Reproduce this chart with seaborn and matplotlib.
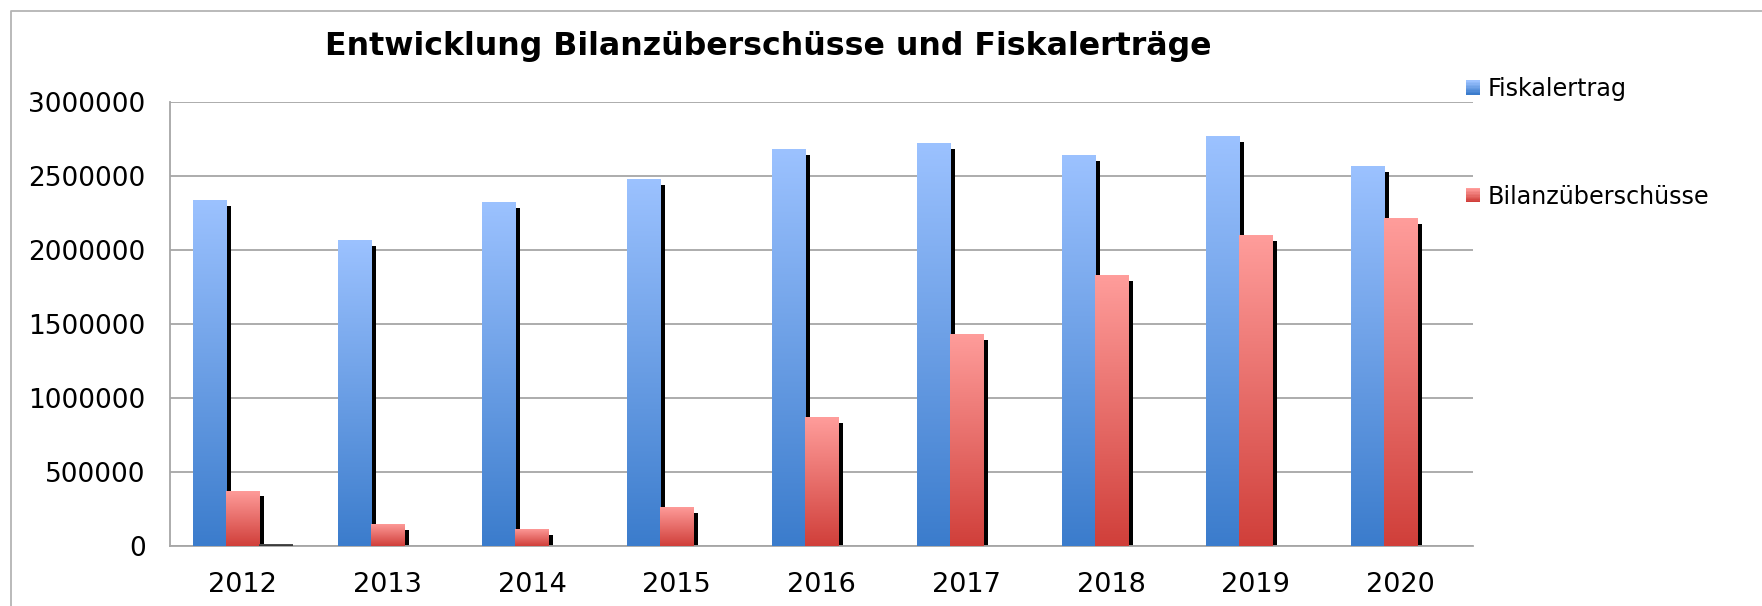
import numpy as np
import pandas as pd
import seaborn as sns
import matplotlib.pyplot as plt
import matplotlib.patheffects as pe
from matplotlib.colors import LinearSegmentedColormap
from matplotlib.patches import Rectangle
from matplotlib.legend_handler import HandlerBase
from matplotlib.lines import Line2D
from matplotlib.ticker import StrMethodFormatter

# Daten
jahre = ['2012', '2013', '2014', '2015', '2016', '2017', '2018', '2019', '2020']
fiskalertrag = [2340000, 2070000, 2325000, 2480000, 2680000, 2725000, 2645000, 2770000, 2570000]
bilanzueberschuesse = [375000, 150000, 115000, 265000, 870000, 1435000, 1830000, 2100000, 2215000]
leer = [12000, 0, 0, 0, 0, 0, 0, 0, 0]
serien = ['Fiskalertrag', 'Bilanzüberschüsse', 'Leer']

# Farben (oben hell, unten dunkel)
verlauf = {
    'Fiskalertrag': ('#9cc2ff', '#3b7ccc'),
    'Bilanzüberschüsse': ('#ff9d9b', '#d03f3a'),
    'Leer': ('#555555', '#333333'),
}

df = pd.DataFrame({
    'Jahr': jahre * 3,
    'Wert': fiskalertrag + bilanzueberschuesse + leer,
    'Serie': ['Fiskalertrag'] * 9 + ['Bilanzüberschüsse'] * 9 + ['Leer'] * 9,
})

sns.set_style('white')
plt.rcParams['font.family'] = ['DejaVu Sans']
plt.rcParams['text.color'] = 'black'
plt.rcParams['xtick.color'] = 'black'
plt.rcParams['ytick.color'] = 'black'

W, H = 1762, 606
fig = plt.figure(figsize=(W / 100, H / 100), dpi=100)
ax = fig.add_axes([170 / W, 1 - 546 / H, (1473 - 170) / W, (546 - 102) / H])

sns.barplot(data=df, x='Jahr', y='Wert', hue='Serie', hue_order=serien,
            palette={s: verlauf[s][1] for s in serien}, width=0.684,
            linewidth=0, legend=False, ax=ax, zorder=2)

ax.set_ylim(0, 3000000)
ax.set_xlim(-0.5, 8.5)
ax.set_yticks(np.arange(0, 3000001, 500000))
ax.yaxis.set_major_formatter(StrMethodFormatter('{x:.0f}'))
ax.yaxis.grid(True, color='#a6a6a6', linewidth=1.3, zorder=0)
ax.set_axisbelow(True)
ax.set_xlabel('')
ax.set_ylabel('')
for s in ['top', 'right']:
    ax.spines[s].set_visible(False)
for s in ['left', 'bottom']:
    ax.spines[s].set_color('#a6a6a6')
    ax.spines[s].set_linewidth(1.3)
ax.tick_params(axis='y', length=4.5, color='#a6a6a6', labelcolor='black', width=1.3, pad=13, labelsize=19)
ax.tick_params(axis='x', length=0, pad=19, labelcolor='black', labelsize=19.5)

# Verlauf und Schatten für jeden Balken
schatten = [pe.SimplePatchShadow(offset=(3.6, -4.3), shadow_rgbFace='black', alpha=1.0), pe.Normal()]
grad = np.linspace(0, 1, 256).reshape(-1, 1)
for serie, container in zip(serien, ax.containers):
    cmap = LinearSegmentedColormap.from_list(serie, [verlauf[serie][1], verlauf[serie][0]])
    for bar in container:
        h = bar.get_height()
        if h <= 0:
            bar.set_visible(False)
            continue
        bar.set_path_effects(schatten)
        x0 = bar.get_x()
        im = ax.imshow(grad, cmap=cmap, aspect='auto', origin='lower',
                       extent=(x0, x0 + bar.get_width(), 0, h), zorder=3)
        im.set_clip_path(bar)
ax.set_xlim(-0.5, 8.5)
ax.set_ylim(0, 3000000)


class VerlaufHandler(HandlerBase):
    def __init__(self, oben, unten):
        super().__init__()
        self.oben = oben
        self.unten = unten

    def create_artists(self, legend, orig_handle, xdescent, ydescent, width, height, fontsize, trans):
        n = 10
        cmap = LinearSegmentedColormap.from_list('l', [self.unten, self.oben])
        teile = []
        for i in range(n):
            r = Rectangle((-xdescent, -ydescent + height * i / n), width, height / n + 0.3,
                          facecolor=cmap(i / (n - 1)), linewidth=0, transform=trans)
            teile.append(r)
        return teile


h1 = Line2D([], [])
h2 = Line2D([], [])
fig.legend([h1, h2], ['Fiskalertrag', 'Bilanzüberschüsse'],
           handler_map={h1: VerlaufHandler(*verlauf['Fiskalertrag']),
                        h2: VerlaufHandler(*verlauf['Bilanzüberschüsse'])},
           loc='upper left', bbox_to_anchor=(1466 / W, 1 - 77 / H), frameon=False,
           fontsize=17.2, handlelength=0.6, handleheight=0.55, handletextpad=0.3,
           labelspacing=3.5, borderpad=0, borderaxespad=0, labelcolor='black')

fig.text(768 / W, 1 - 47 / H, 'Entwicklung Bilanzüberschüsse und Fiskalerträge',
         ha='center', va='center', fontsize=22.8, fontweight='bold', color='black')

# Rahmen oben und links
fig.add_artist(Line2D([10.7 / W, 10.7 / W, 1.0], [0.0, 1 - 11 / H, 1 - 11 / H],
                      color='#b4b4b4', linewidth=1.3, transform=fig.transFigure))

fig.savefig('out.png', dpi=100)
